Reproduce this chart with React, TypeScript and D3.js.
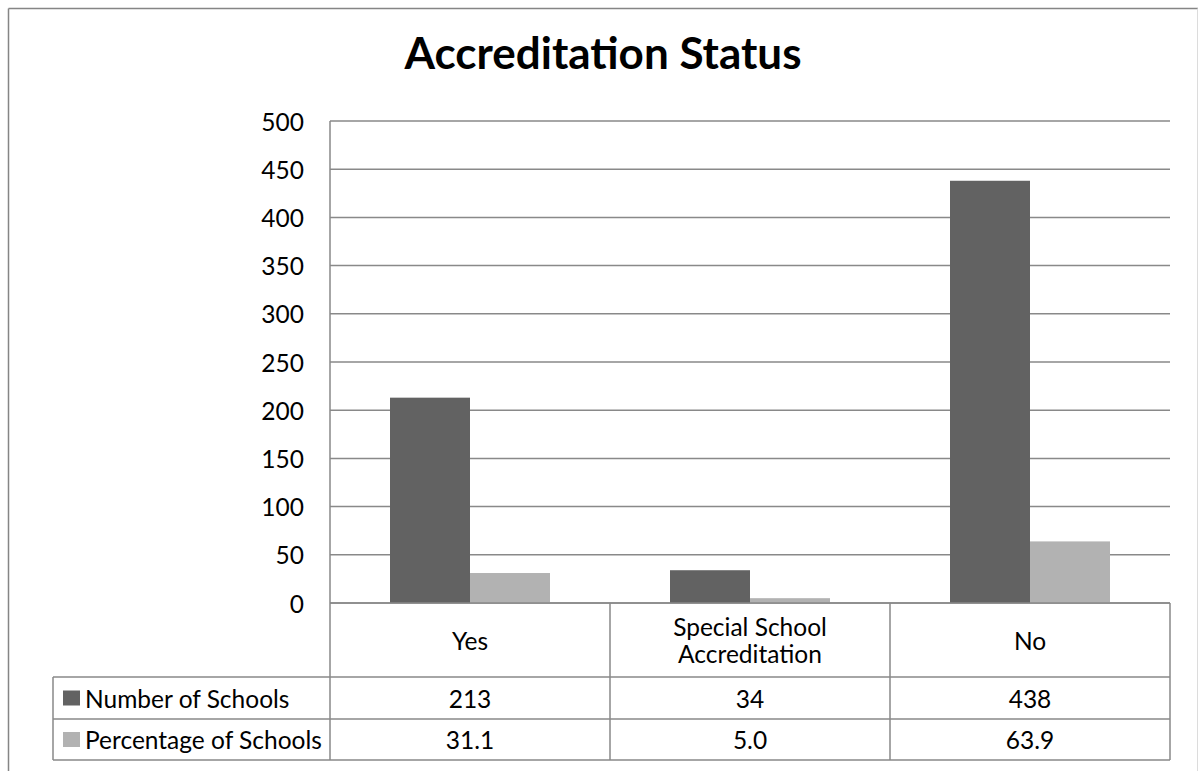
import React from "react";
import * as d3 from "d3";

const categories = ["Yes", "Special School Accreditation", "No"];
const categoryLines = [["Yes"], ["Special School", "Accreditation"], ["No"]];
const seriesNames = ["Number of Schools", "Percentage of Schools"];
const numberOfSchools = [213, 34, 438];
const percentageOfSchools = [31.1, 5.0, 63.9];
const numberLabels = ["213", "34", "438"];
const percentLabels = ["31.1", "5.0", "63.9"];
const yTicks = [0, 50, 100, 150, 200, 250, 300, 350, 400, 450, 500];
const seriesColors = ["#626262", "#b2b2b2"];

const W = 1199;
const H = 771;
const FONT = "Lato, 'Open Sans', sans-serif";

export default function App() {
  const plotLeft = 330;
  const plotRight = 1170;
  const plotTop = 121;
  const plotBottom = 603;
  const row1Bottom = 677;
  const row2Bottom = 719;
  const row3Bottom = 760;
  const legendLeft = 53;

  const x = d3.scaleBand<string>().domain(categories).range([plotLeft, plotRight]).paddingInner(0).paddingOuter(0);
  const xs = d3.scaleBand<string>().domain(seriesNames).range([0, x.bandwidth()]).paddingInner(0).paddingOuter(0.75);
  const y = d3.scaleLinear().domain([0, 500]).range([plotBottom, plotTop]);

  const seriesValues = [numberOfSchools, percentageOfSchools];
  const rowLabels = [numberLabels, percentLabels];
  const rowCenters = [(row1Bottom + row2Bottom) / 2, (row2Bottom + row3Bottom) / 2];
  const lineColor = "#898989";
  const fs = 24.5;

  return (
    <svg width={W} height={H} style={{ display: "block", position: "absolute", left: 0, top: 0 }}>
      <rect x={0} y={0} width={W} height={H} fill="#fff" />
      {/* outer chart border */}
      <line x1={8.5} y1={8.5} x2={1198} y2={8.5} stroke="#858585" strokeWidth={1.5} />
      <line x1={8.5} y1={8.5} x2={8.5} y2={H} stroke="#858585" strokeWidth={1.5} />
      <line x1={1197.5} y1={8.5} x2={1197.5} y2={H} stroke="#dcdcdc" strokeWidth={1} />

      {/* title */}
      <text x={603} y={69} textAnchor="middle" fontFamily={FONT} fontWeight="bold" fontSize={44} fill="#000">
        Accreditation Status
      </text>

      {/* gridlines */}
      {yTicks.map((t) => (
        <line key={"g" + t} x1={plotLeft} x2={plotRight} y1={y(t)} y2={y(t)} stroke={lineColor} strokeWidth={1.5} />
      ))}
      {/* y tick labels */}
      {yTicks.map((t) => (
        <text key={"t" + t} x={304} y={y(t)} textAnchor="end" dominantBaseline="central" fontFamily={FONT} fontSize={fs} fill="#000">
          {t}
        </text>
      ))}

      {/* bars */}
      {seriesNames.map((s, si) =>
        categories.map((c, ci) => (
          <rect
            key={s + c}
            x={(x(c) as number) + (xs(s) as number)}
            y={y(seriesValues[si][ci])}
            width={xs.bandwidth()}
            height={y(0) - y(seriesValues[si][ci])}
            fill={seriesColors[si]}
          />
        ))
      )}

      {/* axis vertical */}
      <line x1={plotLeft} x2={plotLeft} y1={plotTop} y2={row3Bottom} stroke={lineColor} strokeWidth={1.5} />
      <line x1={plotLeft} x2={plotRight} y1={plotBottom} y2={plotBottom} stroke={lineColor} strokeWidth={1.5} />

      {/* data table */}
      {categories.map((c) => (
        <line key={"v" + c} x1={(x(c) as number) + x.bandwidth()} x2={(x(c) as number) + x.bandwidth()} y1={plotBottom} y2={row3Bottom} stroke={lineColor} strokeWidth={1.5} />
      ))}
      {[row1Bottom, row2Bottom, row3Bottom].map((yy) => (
        <line key={"h" + yy} x1={legendLeft} x2={plotRight} y1={yy} y2={yy} stroke={lineColor} strokeWidth={1.5} />
      ))}
      <line x1={legendLeft} x2={legendLeft} y1={row1Bottom} y2={row3Bottom} stroke={lineColor} strokeWidth={1.5} />

      {/* category labels */}
      {categories.map((c, ci) => {
        const lines = categoryLines[ci];
        const lh = 27;
        const cy = (plotBottom + row1Bottom) / 2;
        return lines.map((ln, li) => (
          <text
            key={c + li}
            x={(x(c) as number) + x.bandwidth() / 2}
            y={cy + (li - (lines.length - 1) / 2) * lh}
            textAnchor="middle"
            dominantBaseline="central"
            fontFamily={FONT}
            fontSize={fs}
            fill="#000"
          >
            {ln}
          </text>
        ));
      })}

      {/* legend rows and values */}
      {seriesNames.map((s, si) => (
        <g key={"row" + s}>
          <rect x={63} y={rowCenters[si] - 7.5} width={17} height={15} fill={seriesColors[si]} />
          <text x={85} y={rowCenters[si]} dominantBaseline="central" fontFamily={FONT} fontSize={fs} fill="#000">
            {s}
          </text>
          {categories.map((c, ci) => (
            <text
              key={s + c}
              x={(x(c) as number) + x.bandwidth() / 2}
              y={rowCenters[si]}
              textAnchor="middle"
              dominantBaseline="central"
              fontFamily={FONT}
              fontSize={fs}
              fill="#000"
            >
              {rowLabels[si][ci]}
            </text>
          ))}
        </g>
      ))}
    </svg>
  );
}
